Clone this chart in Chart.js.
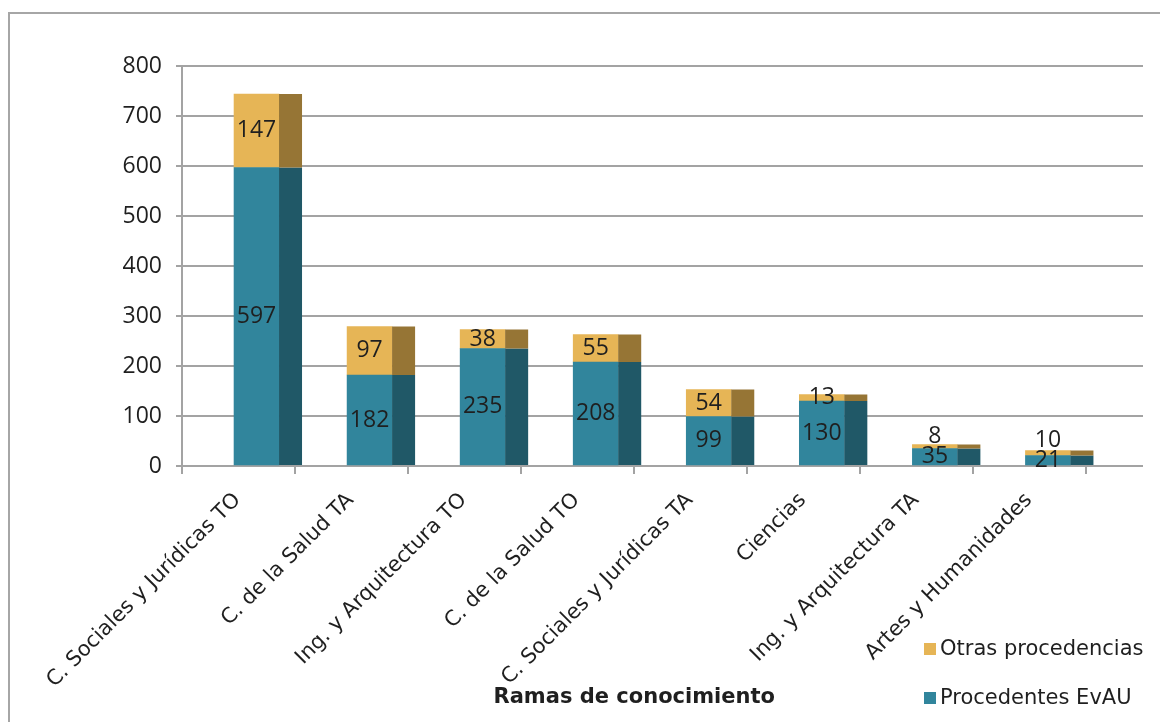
<!DOCTYPE html>
<html>
<head>
<meta charset="utf-8">
<script src="https://cdn.jsdelivr.net/npm/chart.js@4.4.1/dist/chart.umd.min.js"></script>
<style>
  body { margin: 0; background: #fff; }
  #wrap { position: relative; width: 1160px; height: 722px; overflow: hidden; }
  #frame { position: absolute; left: 8px; top: 12px; width: 1200px; height: 800px; border: 2px solid #a6a6a6; }
  #chart { position: absolute; left: 0; top: 0; }
  .legend-item { position: absolute; left: 924px; height: 24px; line-height: 24px;
    font-family: "DejaVu Sans", Verdana, sans-serif; font-size: 21px; color: #1f1f1f; white-space: nowrap; }
  .legend-item span.box { display: inline-block; width: 12px; height: 12px; margin-right: 4px; vertical-align: 0px; }
</style>
</head>
<body>
<div id="wrap">
  <div id="frame"></div>
  <canvas id="chart" width="1160" height="722"></canvas>
  <div id="legend"></div>
</div>
<script>
const ramas = [
  'C. Sociales y Jurídicas TO',
  'C. de la Salud TA',
  'Ing. y Arquitectura TO',
  'C. de la Salud TO',
  'C. Sociales y Jurídicas TA',
  'Ciencias',
  'Ing. y Arquitectura TA',
  'Artes y Humanidades'
];
const procedentesEvau = [597, 182, 235, 208, 99, 130, 35, 21];
const otrasProcedencias = [147, 97, 38, 55, 54, 13, 8, 10];
const yMax = 800;
const yStep = 100;

const GRID = '#a3a3a3';
const TEXT = '#1f1f1f';
const BAR_SHIFT = 18;   // front face sits right of the category centre
const SIDE_DEPTH = 23;  // width of the dark "3d" side

// the category axis covers 8 of 8.5 slots, the grid runs on to the back wall
const shiftAxes = {
  id: 'shiftAxes',
  afterLayout(chart) {
    const x = chart.scales.x;
    const xb = chart.scales.xb;
    const cat = (x.right - x.left) / (ramas.length + 0.5);
    x.right = x.left + cat * ramas.length;
    x.width = x.right - x.left;
    x.configure();
    xb.left = x.left + BAR_SHIFT;
    xb.right = xb.left + cat * ramas.length;
    xb.width = xb.right - xb.left;
    xb.configure();
  }
};

const sideFaces = {
  id: 'sideFaces',
  afterDatasetsDraw(chart) {
    const ctx = chart.ctx;
    ctx.save();
    chart.data.datasets.forEach((ds, i) => {
      chart.getDatasetMeta(i).data.forEach(bar => {
        const top = Math.min(bar.y, bar.base);
        const h = Math.abs(bar.base - bar.y);
        ctx.fillStyle = ds.sideColor;
        ctx.fillRect(bar.x + bar.width / 2, top, SIDE_DEPTH, h);
      });
    });
    ctx.restore();
  }
};

const barLabels = {
  id: 'barLabels',
  afterDatasetsDraw(chart) {
    const ctx = chart.ctx;
    ctx.save();
    ctx.font = '23px "Open Sans", sans-serif';
    ctx.fillStyle = TEXT;
    ctx.textAlign = 'center';
    ctx.textBaseline = 'middle';
    const lower = chart.getDatasetMeta(0).data;
    chart.data.datasets.forEach((ds, i) => {
      chart.getDatasetMeta(i).data.forEach((bar, j) => {
        let cy = (bar.y + bar.base) / 2;
        if (i > 0) {
          const below = (lower[j].y + lower[j].base) / 2;
          if (below - cy < 20) cy = below - 20;
        }
        ctx.fillText(String(ds.data[j]), bar.x, cy);
      });
    });
    ctx.restore();
  }
};

const chart = new Chart(document.getElementById('chart'), {
  type: 'bar',
  data: {
    labels: ramas,
    datasets: [
      {
        label: 'Procedentes EvAU',
        data: procedentesEvau,
        backgroundColor: '#31859c',
        sideColor: '#205867',
        xAxisID: 'xb',
        barThickness: 45
      },
      {
        label: 'Otras procedencias',
        data: otrasProcedencias,
        backgroundColor: '#e6b556',
        sideColor: '#967535',
        xAxisID: 'xb',
        barThickness: 45
      }
    ]
  },
  options: {
    responsive: false,
    animation: false,
    layout: { padding: { left: 0, right: 17, top: 66, bottom: 0 } },
    plugins: {
      legend: { display: false },
      tooltip: { enabled: false }
    },
    scales: {
      x: {
        type: 'category',
        position: 'bottom',
        offset: true,
        grid: { offset: true, drawOnChartArea: false, drawTicks: true, tickLength: 8, color: GRID, lineWidth: 2 },
        border: { display: false },
        ticks: {
          minRotation: 45,
          maxRotation: 45,
          autoSkip: false,
          padding: 14,
          labelOffset: -1,
          color: TEXT,
          font: { family: '"DejaVu Sans", Verdana, sans-serif', size: 21 }
        },
        title: {
          display: true,
          text: 'Ramas de conocimiento',
          color: TEXT,
          font: { family: '"DejaVu Sans", Verdana, sans-serif', size: 21, weight: 'bold' },
          padding: { top: 0, bottom: 12 }
        },
        afterFit: s => { s.height = 256; }
      },
      xb: {
        type: 'category',
        position: 'bottom',
        display: false,
        offset: true,
        stacked: true
      },
      y: {
        stacked: true,
        min: 0,
        max: yMax,
        ticks: {
          stepSize: yStep,
          padding: 14,
          color: TEXT,
          font: { family: '"Open Sans", sans-serif', size: 23 }
        },
        grid: { color: GRID, lineWidth: 2, tickLength: 6 },
        border: { color: GRID, width: 2 },
        afterFit: s => { s.width = 182; }
      }
    }
  },
  plugins: [shiftAxes, sideFaces, barLabels]
});

// legend, top entry is the upper stack
const legendTops = [636, 685];
const legend = document.getElementById('legend');
chart.data.datasets.slice().reverse().forEach((ds, i) => {
  const item = document.createElement('div');
  item.className = 'legend-item';
  item.style.top = legendTops[i] + 'px';
  item.innerHTML = '<span class="box" style="background:' + ds.backgroundColor + '"></span>' + ds.label;
  legend.appendChild(item);
});
</script>
</body>
</html>
